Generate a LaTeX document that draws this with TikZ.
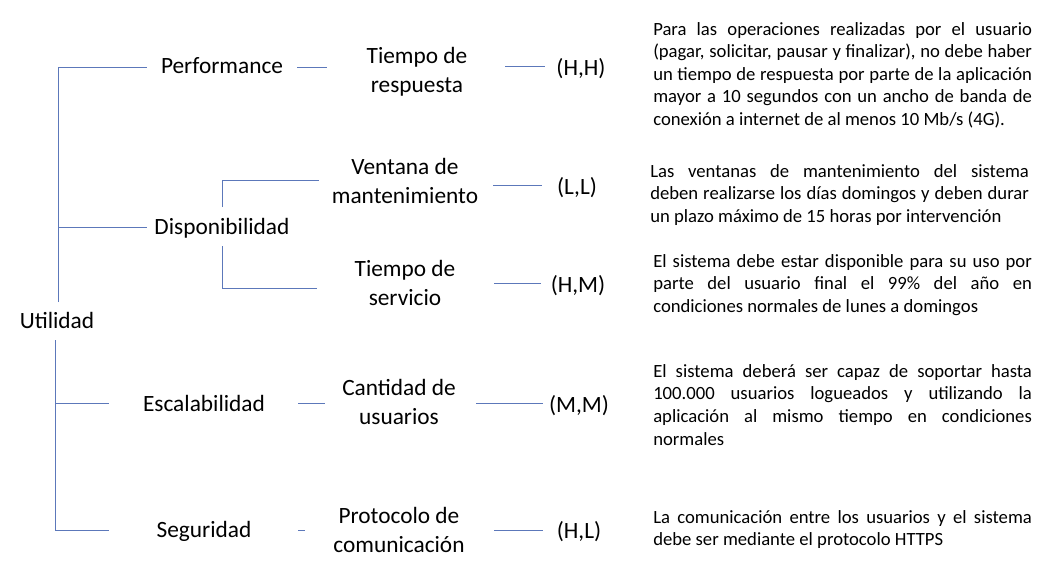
\documentclass[tikz,border=0pt]{standalone}
\usepackage{fontspec}
\setmainfont{Carlito}
\definecolor{brblue}{RGB}{92,120,186}
\tikzset{
  br/.style={draw=brblue, line width=0.75pt},
  lbl/.style={inner sep=0pt, anchor=base, font=\fontsize{17.5}{21.75}\selectfont},
  code/.style={inner sep=0pt, anchor=base, font=\fontsize{17.5}{21.75}\selectfont},
  para/.style={inner sep=0pt, anchor=base west, font=\fontsize{14}{17}\selectfont}
}
\newcommand{\twol}[2]{\begin{tabular}[t]{@{}c@{}}#1\\#2\end{tabular}}
\newcommand{\jpar}[1]{\parbox[t]{284pt}{\tolerance=10000\hyphenpenalty=10000\exhyphenpenalty=10000\emergencystretch=3em #1}}
\begin{document}
\begin{tikzpicture}[x=0.75pt,y=-0.75pt]
\useasboundingbox (0,0) rectangle (1046,571);

% level 0 and 1 labels
\node[lbl] (util) at (57,328) {Utilidad};
\node[lbl] (perf) at (222,73) {Performance};
\node[lbl] (disp) at (222,234) {Disponibilidad};
\node[lbl] (esc)  at (204,411) {Escalabilidad};
\node[lbl] (seg)  at (204,537) {Seguridad};

% level 2 labels
\node[lbl] (tr)  at (417,63)  {\twol{Tiempo de}{respuesta}};
\node[lbl] (ven) at (405,174) {\twol{Ventana de}{mantenimiento}};
\node[lbl] (ser) at (405,276) {\twol{Tiempo de}{servicio}};
\node[lbl] (cu)  at (399,395) {\twol{Cantidad de}{usuarios}};
\node[lbl] (pc)  at (399,523) {\twol{Protocolo de}{comunicación}};

% priority codes
\node[code] (hh) at (581,75)  {(H,H)};
\node[code] (ll) at (577,194) {(L,L)};
\node[code] (hm) at (578,292) {(H,M)};
\node[code] (mm) at (579,412) {(M,M)};
\node[code] (hl) at (579,538) {(H,L)};

% descriptions
\node[para] (p1) at (653,35) {\jpar{Para las operaciones realizadas por el usuario\linebreak
(pagar, solicitar, pausar y finalizar), no debe haber\linebreak
un tiempo de respuesta por parte de la aplicación\linebreak
mayor a 10 segundos con un ancho de banda de\linebreak
conexión a internet de al menos 10 Mb/s (4G).}};
\node[para] (p2) at (650,177) {\jpar{Las ventanas de mantenimiento del sistema\linebreak
deben realizarse los días domingos y deben durar\linebreak
un plazo máximo de 15 horas por intervención}};
\node[para] (p3) at (653,267) {\jpar{El sistema debe estar disponible para su uso por\linebreak
parte del usuario final el 99\% del año en\linebreak
condiciones normales de lunes a domingos}};
\node[para] (p4) at (653,377) {\jpar{El sistema deberá ser capaz de soportar hasta\linebreak
100.000 usuarios logueados y utilizando la\linebreak
aplicación al mismo tiempo en condiciones\linebreak
normales}};
\node[para] (p5) at (653,523) {\jpar{La comunicación entre los usuarios y el sistema\linebreak
debe ser mediante el protocolo HTTPS}};

% main tree
\coordinate (uTop) at (58,302);
\coordinate (uBot) at (55,340);
\coordinate (bPerf) at (147,67);
\coordinate (bDisp) at (147,227);
\coordinate (bEsc) at (109,403);
\coordinate (bSeg) at (109,530);
\draw[br] (uTop) |- (bPerf);
\draw[br] (uTop |- bDisp) -- (bDisp);
\draw[br] (uBot) |- (bSeg);
\draw[br] (uBot |- bEsc) -- (bEsc);

% disponibilidad sub-tree
\coordinate (dUp) at (222,207);
\coordinate (dDn) at (222,246);
\coordinate (bVen) at (319,180);
\coordinate (bSer) at (317,288);
\draw[br] (dUp) |- (bVen);
\draw[br] (dDn) |- (bSer);

% short connectors between columns
\coordinate (c1a) at (297,67);  \coordinate (c1b) at (327,67);
\coordinate (c2a) at (298,403); \coordinate (c2b) at (325,403);
\coordinate (c3a) at (298,530); \coordinate (c3b) at (305,530);
\draw[br] (c1a) -- (c1b);
\draw[br] (c2a) -- (c2b);
\draw[br] (c3a) -- (c3b);

\coordinate (d1a) at (505,66);  \coordinate (d1b) at (545,66);
\coordinate (d2a) at (493,185); \coordinate (d2b) at (542,185);
\coordinate (d3a) at (494,283); \coordinate (d3b) at (541,283);
\coordinate (d4a) at (476,403); \coordinate (d4b) at (543,403);
\coordinate (d5a) at (494,530); \coordinate (d5b) at (543,530);
\draw[br] (d1a) -- (d1b);
\draw[br] (d2a) -- (d2b);
\draw[br] (d3a) -- (d3b);
\draw[br] (d4a) -- (d4b);
\draw[br] (d5a) -- (d5b);
\end{tikzpicture}
\end{document}
